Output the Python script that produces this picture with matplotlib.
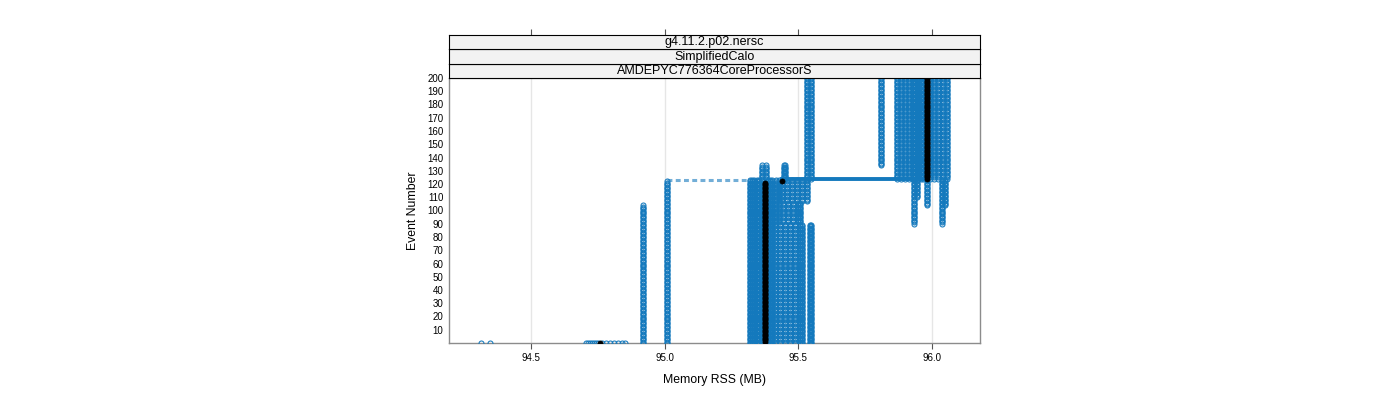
import matplotlib
matplotlib.use("Agg")
import matplotlib.pyplot as plt
import numpy as np

plt.rcParams['font.family'] = ['Liberation Sans', 'DejaVu Sans']

BLUE = '#1479bd'

strip_labels = ['g4.11.2.p02.nersc', 'SimplifiedCalo', 'AMDEPYC776364CoreProcessorS']
x_ticks = [94.5, 95.0, 95.5, 96.0]
x_ticklabels = ['94.5', '95.0', '95.5', '96.0']
y_ticks = list(range(10, 201, 10))

# memory columns: memory (MB), first event, last event
col_mem = [94.920, 95.009,
           95.318, 95.327, 95.336, 95.345, 95.354, 95.363, 95.385, 95.394, 95.403,
           95.416, 95.428, 95.440,
           95.414, 95.444, 95.459,
           95.433, 95.463, 95.478,
           95.451, 95.481, 95.496,
           95.470, 95.500, 95.515,
           95.489, 95.505, 95.534,
           95.508, 95.513, 95.542, 95.547,
           95.364, 95.380, 95.445, 95.452,
           95.532, 95.549, 95.809,
           95.871, 95.886, 95.901, 95.916, 95.928, 95.938, 95.948, 95.958, 95.968,
           95.994, 96.009, 96.024, 96.043, 96.058,
           95.934, 95.946, 95.983, 96.036, 96.050]
col_first = [0, 0,
             0, 0, 0, 0, 0, 0, 0, 0, 0,
             91, 91, 107,
             0, 91, 107,
             0, 91, 107,
             0, 91, 107,
             0, 91, 107,
             0, 91, 107,
             0, 0, 0, 0,
             124, 124, 124, 124,
             124, 124, 134,
             124, 124, 124, 124, 124, 124, 124, 124, 124,
             124, 124, 124, 124, 124,
             90, 110, 104, 90, 104]
col_last = [104, 122,
            123, 123, 123, 123, 123, 123, 123, 123, 123,
            123, 123, 123,
            90, 106, 123,
            90, 106, 123,
            90, 106, 123,
            90, 106, 123,
            90, 106, 123,
            89, 89, 89, 89,
            134, 134, 134, 134,
            200, 200, 200,
            200, 200, 200, 200, 200, 200, 200, 200, 200,
            200, 200, 200, 200, 200,
            123, 123, 123, 123, 123]

# first-event readings along the bottom
event0_mem = [94.313, 94.346, 94.706, 94.712, 94.720, 94.728, 94.736, 94.744,
              94.752, 94.765, 94.780, 94.795, 94.810, 94.825, 94.840, 94.852]

# memory growth within a single event
hseg_event = [123.5, 123]
hseg_from = [95.440, 95.009]
hseg_to = [95.965, 95.318]

# highlighted run (black)
black_mem = [94.758, 95.376, 95.440, 95.983]
black_first = [0, 1, 122, 124]
black_last = [0, 121, 122, 200]

fig = plt.figure(figsize=(14, 4), dpi=100)
W, H = 1400.0, 400.0
L, R, T, B = 449, 980, 78, 343
ax = fig.add_axes([L / W, 1 - B / H, (R - L) / W, (B - T) / H])

xlim = (94.193, 96.180)
ax.set_xlim(*xlim)
ax.set_ylim(0, 200)

for x in x_ticks:
    ax.axvline(x, color='#e6e6e6', lw=1, zorder=0)

mk = dict(marker='o', ls='none', ms=3.6, mfc='none', mec=BLUE, mew=0.75, clip_on=True)

ax.plot(hseg_from[:1] + hseg_to[:1], [hseg_event[0]] * 2, color=BLUE, lw=2.8, zorder=2)
ax.plot(hseg_from[1:] + hseg_to[1:], [hseg_event[1]] * 2, color=BLUE, lw=2.2,
        ls=(0, (1.6, 1.1)), alpha=0.6, zorder=2)

for m, a, b in zip(col_mem, col_first, col_last):
    ev = np.arange(a, b + 1)
    ax.plot(np.full(len(ev), m), ev, zorder=3, **mk)

ax.plot(event0_mem, np.zeros(len(event0_mem)), zorder=3, **mk)

for m, a, b in zip(black_mem, black_first, black_last):
    ev = np.arange(a, b + 1)
    ax.plot(np.full(len(ev), m), ev, 'o', ms=3.6, color='black', mew=0.6, zorder=4)

ax.set_xticks(x_ticks)
ax.set_xticklabels(x_ticklabels)
ax.set_yticks(y_ticks)
ax.set_yticklabels([str(v) for v in y_ticks])
ax.tick_params(axis='x', direction='out', length=4.3, width=0.8, color='#555555',
               labelsize=7, pad=3)
ax.tick_params(axis='y', length=0, labelsize=7, pad=4)
for s in ['left', 'right', 'bottom']:
    ax.spines[s].set_color('#8c8c8c')
    ax.spines[s].set_linewidth(1)
ax.spines['top'].set_color('black')
ax.spines['top'].set_linewidth(0.8)

ax.set_xlabel('Memory RSS (MB)', fontsize=8.8, labelpad=8)
ax.set_ylabel('Event Number', fontsize=8.8, labelpad=6)

# strips, bottom to top
strip_h = 14.5
for i, lab in enumerate(reversed(strip_labels)):
    top = T - strip_h * (i + 1)
    sax = fig.add_axes([L / W, 1 - (top + strip_h) / H, (R - L) / W, strip_h / H])
    sax.set_facecolor('#f2f2f2')
    sax.set_xlim(*xlim)
    sax.set_ylim(0, 1)
    for s in sax.spines.values():
        s.set_color('black')
        s.set_linewidth(0.8)
    sax.text(0.5, 0.45, lab, transform=sax.transAxes, ha='center', va='center',
             fontsize=9)
    if i == len(strip_labels) - 1:
        sax.set_xticks(x_ticks)
        sax.xaxis.tick_top()
        sax.tick_params(axis='x', direction='out', length=4.3, width=0.8,
                        color='#555555', labeltop=False)
        sax.set_yticks([])
    else:
        sax.set_xticks([])
        sax.set_yticks([])

fig.savefig('out.png', dpi=100)
